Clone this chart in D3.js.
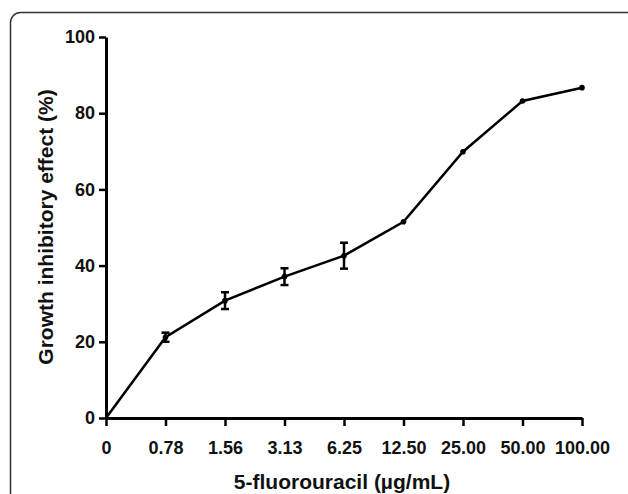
<!DOCTYPE html>
<head lang="en">
<meta charset="utf-8">
<title>5-fluorouracil growth inhibition</title>
<style>
body { margin:0; background:#fff; }
text { font-family:"Liberation Sans", Arial, sans-serif; font-weight:bold; fill:#111; }
</style>
<script src="https://cdn.jsdelivr.net/npm/d3@7"></script>
</head>
<body>
<script>
// Dose categories and mean inhibition with SD
var doses = ["0", "0.78", "1.56", "3.13", "6.25", "12.50", "25.00", "50.00", "100.00"];
var inhibition = [0, 21.2, 30.8, 37.1, 42.6, 51.5, 69.9, 83.2, 86.7];
var errors = [0, 1.2, 2.2, 2.2, 3.4, 0, 0, 0, 0];
var yTicks = [0, 20, 40, 60, 80, 100];

var width = 628, height = 494;

var svg = d3.select("body").append("svg")
    .attr("width", width)
    .attr("height", height);

// outer frame
svg.append("rect")
    .attr("x", 10.5).attr("y", 12.5)
    .attr("width", 630).attr("height", 520)
    .attr("rx", 10).attr("ry", 10)
    .style("fill", "none")
    .style("stroke", "#333")
    .style("stroke-width", 1.5);

var x = d3.scalePoint().domain(doses).range([106, 582]);
var y = d3.scaleLinear().domain([0, 100]).range([418, 37]);

var data = doses.map(function(d, i) { return {dose: d, val: inhibition[i], err: errors[i]}; });

// axes
var xAxis = svg.append("g")
    .attr("transform", "translate(0,418)")
    .call(d3.axisBottom(x).tickSizeOuter(0).tickSizeInner(8).tickPadding(15));
var yAxis = svg.append("g")
    .attr("transform", "translate(106,0)")
    .call(d3.axisLeft(y).tickValues(yTicks).tickSizeOuter(0).tickSizeInner(7).tickPadding(4));

[xAxis, yAxis].forEach(function(g) {
    g.select(".domain").style("stroke", "#000").style("stroke-width", 3);
    g.selectAll(".tick line").style("stroke", "#000").style("stroke-width", 2.5);
    g.selectAll(".tick text").style("font-size", "18px").style("fill", "#111");
});

// line
var line = d3.line()
    .x(function(d) { return x(d.dose); })
    .y(function(d) { return y(d.val); });

svg.append("path")
    .datum(data)
    .attr("d", line)
    .style("fill", "none")
    .style("stroke", "#000")
    .style("stroke-width", 2.5);

// error bars
var eb = svg.selectAll(".err")
    .data(data.filter(function(d) { return d.err > 0; }))
    .enter().append("g")
    .attr("class", "err");
eb.append("line")
    .attr("x1", function(d) { return x(d.dose); })
    .attr("x2", function(d) { return x(d.dose); })
    .attr("y1", function(d) { return y(d.val + d.err); })
    .attr("y2", function(d) { return y(d.val - d.err); })
    .style("stroke", "#000").style("stroke-width", 2.5);
[1, -1].forEach(function(s) {
    eb.append("line")
        .attr("x1", function(d) { return x(d.dose) - 4; })
        .attr("x2", function(d) { return x(d.dose) + 4; })
        .attr("y1", function(d) { return y(d.val + s * d.err); })
        .attr("y2", function(d) { return y(d.val + s * d.err); })
        .style("stroke", "#000").style("stroke-width", 2.5);
});

// points
svg.selectAll(".pt")
    .data(data.slice(1))
    .enter().append("circle")
    .attr("class", "pt")
    .attr("cx", function(d) { return x(d.dose); })
    .attr("cy", function(d) { return y(d.val); })
    .attr("r", 2.8)
    .style("fill", "#000");

// titles
svg.append("text")
    .attr("x", 342).attr("y", 489)
    .attr("text-anchor", "middle")
    .style("font-size", "21px")
    .text("5-fluorouracil (\u00b5g/mL)");

svg.append("text")
    .attr("transform", "translate(53,227) rotate(-90)")
    .attr("text-anchor", "middle")
    .style("font-size", "21px")
    .text("Growth inhibitory effect (%)");
</script>
</body>
</html>
